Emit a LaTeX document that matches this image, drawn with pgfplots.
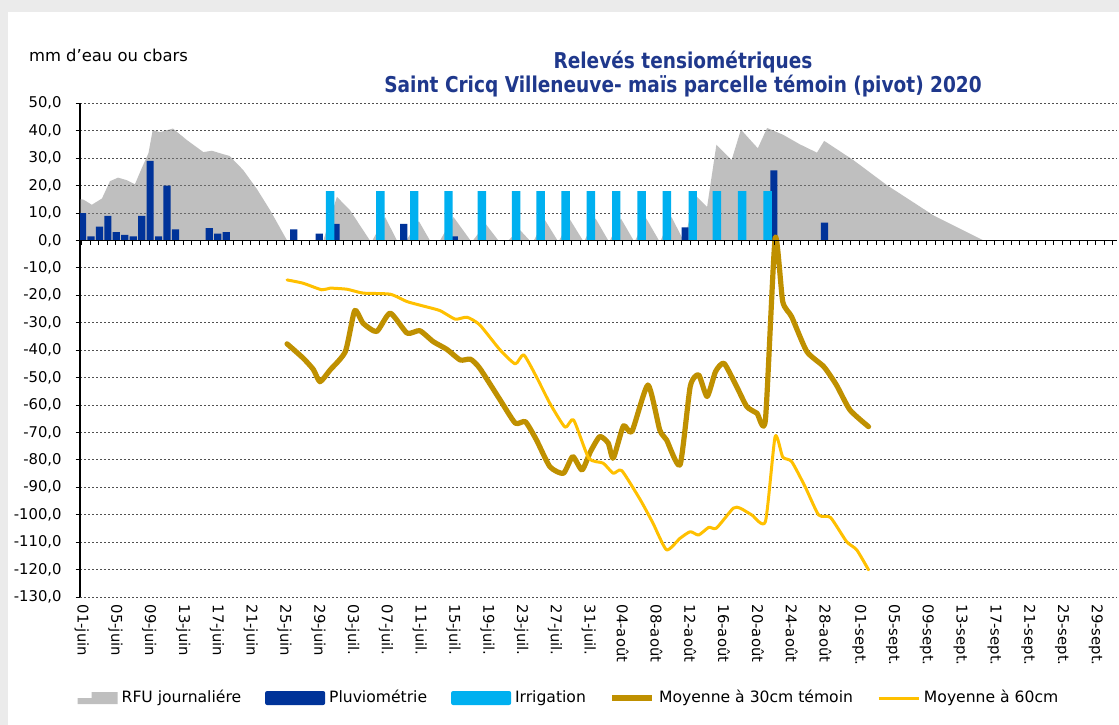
\documentclass[border=0pt]{standalone}
\usepackage{fontspec}
\setmainfont{DejaVu Sans}
\newfontfamily\titlefont[FakeStretch=0.85]{DejaVu Sans}
\usepackage{pgfplots}
\pgfplotsset{compat=1.18}
\definecolor{rfu}{RGB}{129,129,129}
\definecolor{pluv}{RGB}{0,51,153}
\definecolor{irrig}{RGB}{0,176,240}
\definecolor{mtrente}{RGB}{191,144,0}
\definecolor{msoixante}{RGB}{255,192,0}
\definecolor{titleblue}{RGB}{31,56,140}
\definecolor{gridc}{RGB}{80,80,80}
\begin{document}
\begin{tikzpicture}
\useasboundingbox (0,0) rectangle (559.5bp,362.5bp);
\fill[black!8] (0,0) rectangle (559.5bp,362.5bp);
\fill[white] (4bp,0) rectangle (559.5bp,356.5bp);
\node[anchor=west, font=\fontsize{8.2bp}{9bp}\selectfont] at (11bp,335bp) {mm d'eau ou cbars};
\node[align=center, text=titleblue, font=\titlefont\bfseries\fontsize{10.9bp}{10.2bp}\selectfont] at (341.5bp,325.5bp) {Relevés tensiométriques\\Saint Cricq Villeneuve- maïs parcelle témoin (pivot) 2020};
\begin{axis}[
  at={(40bp,64bp)}, anchor=south west,
  scale only axis, width=518.5bp, height=246.85bp,
  xmin=-0.2, xmax=122.5, ymin=-130, ymax=50,
  axis y line*=left, axis x line*=bottom,
  x axis line style={draw=none},
  y axis line style={black, line width=0.6bp},
  ytick={-130,-120,...,50},
  ymajorgrids,
  grid style={dash pattern=on 1.2bp off 0.8bp, gridc, line width=0.45bp},
  xtick={0,4,...,120},
  xticklabels={01-juin,05-juin,09-juin,13-juin,17-juin,21-juin,25-juin,29-juin,03-juil.,07-juil.,11-juil.,15-juil.,19-juil.,23-juil.,27-juil.,31-juil.,04-août,08-août,12-août,16-août,20-août,24-août,28-août,01-sept.,05-sept.,09-sept.,13-sept.,17-sept.,21-sept.,25-sept.,29-sept.},
  x tick style={draw=none},
  y tick style={black, line width=0.5bp},
  tick align=outside, major tick length=2.2bp,
  ticklabel style={font=\fontsize{7.4bp}{8bp}\selectfont},
  xticklabel style={rotate=-90, anchor=west, inner sep=1.5bp},
  yticklabel style={xshift=-3.5bp, /pgf/number format/.cd, fixed, fixed zerofill, precision=1, use comma},
  /pgf/number format/assume math mode=true,
  legend columns=5,
  legend style={at={(0.4725,-0.2046)}, anchor=center, draw=none, fill=none,
    font=\fontsize{7.8bp}{9bp}\selectfont,
    /tikz/every even column/.append style={column sep=10bp}},
]
% RFU journaliere
\addplot[fill=rfu, fill opacity=0.5, draw=none,
  legend image code/.code={\fill (0bp,-3bp) -- (20bp,-3bp) -- (20bp,3bp) -- (7bp,3bp) -- (7bp,0bp) -- (0bp,0bp) -- cycle;}]
coordinates {
(-0.2,15) (0.2,14.9) (1.2,13) (2.4,15.3) (3.35,21.6) (4.3,22.9) (5.3,22) (6.3,20.5) (7.1,26.3) (7.9,31.8) (8.4,40.2) (9.3,39.5) (10.8,40.8) (12.4,36.7) (14.4,32.2) (15.4,32.7) (16.8,31.4) (17.5,30.8) (19.1,25.7) (20.7,18.9) (22.3,11) (24.3,0)
(28.6,0) (30.2,15.9) (31.75,11) (34.1,0)
(34.4,0) (35.9,8.5) (37.3,0)
(38.4,0) (39.9,7) (41.2,0)
(42.4,0) (44,8.5) (46,0)
(46.3,0) (47.8,6) (49.3,0)
(50.5,0) (51.8,4) (53,0)
(53.5,0) (54.8,7.5) (56.3,0)
(56.5,0) (57.8,7.5) (59.3,0)
(59.5,0) (60.8,8) (62.3,0)
(62.5,0) (63.8,8) (65.3,0)
(65.5,0) (66.8,8) (68.3,0)
(68.5,0) (69.8,8.5) (71.2,0)
(71.3,0) (72.6,16.5) (74,12.2) (75.1,34.9) (76.9,29.3) (78,40.4) (80,33.6) (81.1,41) (83,38.5) (85,35) (87,32) (87.85,36.3) (91.3,29.3) (95.3,20.1) (100.8,9.1) (106.7,0) (122.5,0)
} \closedcycle;
\addlegendentry{RFU journaliére}
% Pluviometrie
\addplot[ybar, bar width=0.85, bar shift=0pt, fill=pluv, draw=none,
  legend image code/.code={\fill[rounded corners=1bp] (0bp,-3.5bp) rectangle (30bp,3.5bp);}]
coordinates {
(0.1,10) (1.1,1.5) (2.1,5) (3.1,9) (4.1,3) (5.1,2) (6.1,1.5) (7.1,9) (8.1,29) (9.1,1.5) (10.1,20) (11.1,4) (15.1,4.5) (16.1,2.5) (17.1,3) (25.1,4) (28.1,2.5) (30.1,6) (38.1,6) (44.1,1.5) (71.4,4.8) (81.9,25.5) (87.9,6.5)
};
\addlegendentry{Pluviométrie}
% Irrigation
\addplot[ybar, bar width=1.0, bar shift=0pt, fill=irrig, draw=none,
  legend image code/.code={\fill[rounded corners=1bp] (0bp,-3.5bp) rectangle (30bp,3.5bp);}]
coordinates {
(29.4,18) (35.35,18) (39.35,18) (43.4,18) (47.35,18) (51.4,18) (54.3,18) (57.25,18) (60.25,18) (63.25,18) (66.25,18) (69.25,18) (72.3,18) (75.15,18) (78.15,18) (81.15,18)
};
\addlegendentry{Irrigation}
% Moyenne a 30cm temoin
\addplot[mtrente, line width=2.6bp, line join=round, line cap=round, smooth, tension=0.35,
  legend image code/.code={\draw[line cap=butt] (0bp,0bp) -- (20bp,0bp);}]
coordinates {
(24.3,-37.7) (26.2,-42.9) (27.4,-47) (28.2,-51.5) (29.4,-47.2) (31.2,-40.5) (32.3,-25.6) (33.3,-30.2) (34.9,-33.2) (36.5,-26.5) (38.5,-33.8) (40,-32.9) (41.6,-36.9) (43.2,-39.7) (44.8,-43.6) (46,-43.3) (47.1,-46.6) (49.5,-58.1) (51.3,-66.6) (52.5,-66.1) (53.8,-72.7) (55.4,-82.5) (57,-84.9) (58.1,-78.8) (59.2,-83.7) (60.2,-77) (61.3,-71.5) (62.3,-73.9) (62.9,-79.4) (64.1,-67.6) (65.1,-69.7) (67,-52.7) (68.4,-69.1) (69.2,-72.7) (70.8,-81.8) (72,-53.3) (73,-49) (74,-56.9) (75,-47.8) (76,-44.8) (77.5,-53.3) (78.7,-60.6) (79.9,-63) (80.9,-65.4) (82.05,0.8) (82.95,-22.3) (84,-27.8) (85.8,-40.5) (87.8,-46) (89.3,-52.7) (90.9,-61.8) (93.1,-67.9)
};
\addlegendentry{Moyenne à 30cm témoin}
% Moyenne a 60cm
\addplot[msoixante, line width=1.5bp, line join=round, line cap=round, smooth, tension=0.35,
  legend image code/.code={\draw[line cap=butt] (0bp,0bp) -- (20bp,0bp);}]
coordinates {
(24.3,-14.4) (26.2,-15.6) (28.4,-18) (29.4,-17.4) (31.4,-17.8) (33.3,-19.2) (36.5,-19.6) (38.5,-22.3) (40.4,-23.9) (42.4,-25.6) (44.2,-28.7) (45.6,-28) (47.1,-30.8) (49.5,-39.9) (51.3,-45) (52.3,-41.7) (53.8,-49.7) (55.4,-59.4) (57.2,-68.1) (58.2,-65.4) (60,-79.4) (61.7,-81.2) (62.9,-84.9) (63.9,-83.9) (66.1,-94.6) (67.6,-103.1) (69.2,-112.8) (70.8,-108.6) (72,-106.2) (73,-107.4) (74.2,-104.6) (75.1,-104.9) (77.1,-97.6) (77.9,-97.6) (79.3,-100.1) (80.9,-102.5) (82.05,-71.5) (82.95,-79) (84,-80.6) (85.6,-89.8) (87.2,-100.1) (88.6,-101) (90.5,-109.8) (91.7,-112.8) (93.1,-120.1)
};
\addlegendentry{Moyenne à 60cm}
% zero axis line with daily ticks
\draw[black, line width=0.6bp] (axis cs:-0.2,0) -- (axis cs:122.5,0);
\pgfplotsinvokeforeach{0,...,122}{\draw[black, line width=0.4bp] (axis cs:#1,0) -- ([yshift=-2.3bp]axis cs:#1,0);}
\end{axis}
\end{tikzpicture}
\end{document}
